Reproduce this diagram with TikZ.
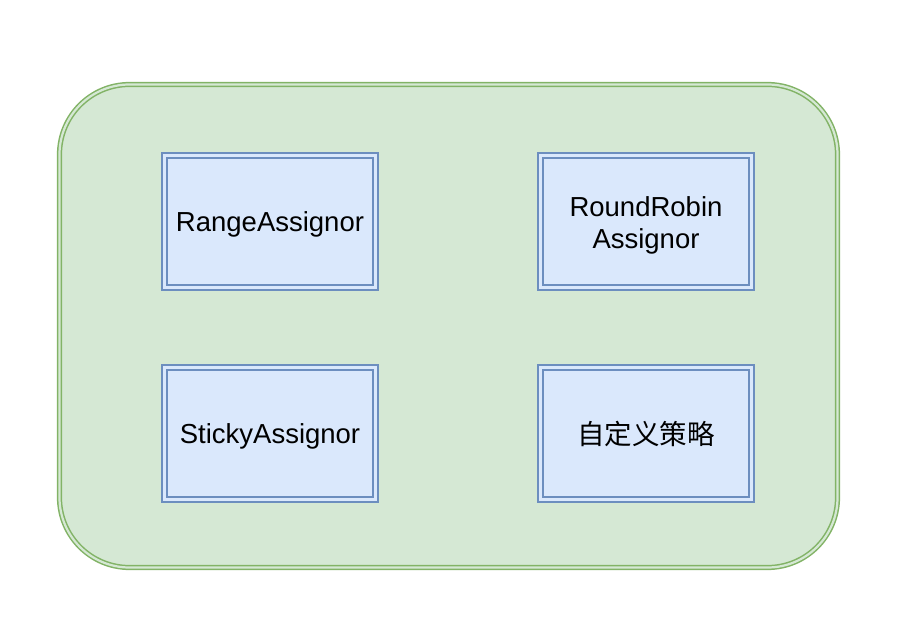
\documentclass[tikz,border=0pt]{standalone}
\usepackage{fontspec}
\setmainfont{Liberation Sans}
\newfontfamily\cjk{Noto Sans CJK SC}
\definecolor{gstroke}{HTML}{82B366}
\definecolor{gfill}{HTML}{D5E8D4}
\definecolor{bstroke}{HTML}{6C8EBF}
\definecolor{bfill}{HTML}{DAE8FC}
\begin{document}
\begin{tikzpicture}[x=1pt,y=-1pt,
  container/.style={draw=gstroke, fill=gfill, double=gfill, line width=1.5pt, double distance=2.2pt, rounded corners=70pt},
  strategy/.style={draw=bstroke, fill=bfill, double=bfill, line width=1.7pt, double distance=2.8pt,
    minimum width=211pt, minimum height=132pt, inner sep=0pt, align=center,
    font=\fontsize{27.5}{32}\selectfont},
  oneline/.style={text height=19.7pt, text depth=0pt}]
\useasboundingbox (0,0) rectangle (906,634);
\draw[container] (59.5,84.5) rectangle (837.5,567.5);
\node[strategy, oneline] (range) at (270,221.5) {RangeAssignor};
\node[strategy, text height=53pt, text depth=0pt] (robin) at (646,221.5) {RoundRobin\\Assignor};
\node[strategy, oneline] (sticky) at (270,433.5) {StickyAssignor};
\node[strategy] (custom) at (646,433.5) {\cjk 自定义策略};
\end{tikzpicture}
\end{document}
